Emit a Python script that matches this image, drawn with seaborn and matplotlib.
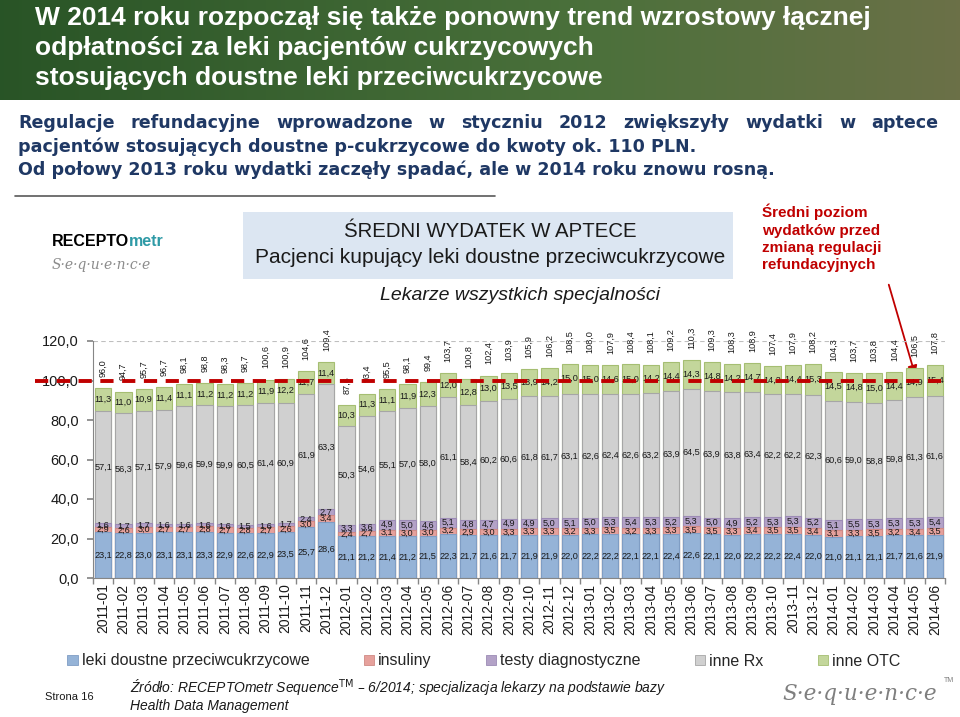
import numpy as np
import pandas as pd
import matplotlib
matplotlib.use("Agg")
import matplotlib.pyplot as plt
import seaborn as sns
from matplotlib.patches import Rectangle, Patch
from matplotlib.lines import Line2D

# ---------------- data ----------------
months = ([f"2011-{m:02d}" for m in range(1, 13)] + [f"2012-{m:02d}" for m in range(1, 13)]
          + [f"2013-{m:02d}" for m in range(1, 13)] + [f"2014-{m:02d}" for m in range(1, 7)])

leki = [23.1, 22.8, 23.0, 23.1, 23.1, 23.3, 22.9, 22.6, 22.9, 23.5, 25.7, 28.6,
        21.1, 21.2, 21.4, 21.2, 21.5, 22.3, 21.7, 21.6, 21.7, 21.9, 21.9, 22.0,
        22.2, 22.2, 22.1, 22.1, 22.4, 22.6, 22.1, 22.0, 22.2, 22.2, 22.4, 22.0,
        21.0, 21.1, 21.1, 21.7, 21.6, 21.9]
insuliny = [2.9, 2.6, 3.0, 2.7, 2.7, 2.8, 2.7, 2.8, 2.7, 2.6, 3.0, 3.4,
            2.4, 2.7, 3.1, 3.0, 3.0, 3.2, 2.9, 3.0, 3.3, 3.3, 3.3, 3.2,
            3.3, 3.5, 3.2, 3.3, 3.3, 3.5, 3.5, 3.3, 3.4, 3.5, 3.5, 3.4,
            3.1, 3.3, 3.5, 3.2, 3.4, 3.5]
testy = [1.6, 1.7, 1.7, 1.6, 1.6, 1.6, 1.6, 1.5, 1.6, 1.7, 2.4, 2.7,
         3.3, 3.6, 4.9, 5.0, 4.6, 5.1, 4.8, 4.7, 4.9, 4.9, 5.0, 5.1,
         5.0, 5.3, 5.4, 5.3, 5.2, 5.3, 5.0, 4.9, 5.2, 5.3, 5.3, 5.2,
         5.1, 5.5, 5.3, 5.3, 5.3, 5.4]
inne_rx = [57.1, 56.3, 57.1, 57.9, 59.6, 59.9, 59.9, 60.5, 61.4, 60.9, 61.9, 63.3,
           50.3, 54.6, 55.1, 57.0, 58.0, 61.1, 58.4, 60.2, 60.6, 61.8, 61.7, 63.1,
           62.6, 62.4, 62.6, 63.2, 63.9, 64.5, 63.9, 63.8, 63.4, 62.2, 62.2, 62.3,
           60.6, 59.0, 58.8, 59.8, 61.3, 61.6]
inne_otc = [11.3, 11.0, 10.9, 11.4, 11.1, 11.2, 11.2, 11.2, 11.9, 12.2, 11.7, 11.4,
            10.3, 11.3, 11.1, 11.9, 12.3, 12.0, 12.8, 13.0, 13.5, 13.9, 14.2, 15.0,
            15.0, 14.6, 15.0, 14.2, 14.4, 14.3, 14.8, 14.2, 14.7, 14.2, 14.4, 15.3,
            14.5, 14.8, 15.0, 14.4, 14.9, 15.4]
totals = [96.0, 94.7, 95.7, 96.7, 98.1, 98.8, 98.3, 98.7, 100.6, 100.9, 104.6, 109.4,
          87.6, 93.4, 95.5, 98.1, 99.4, 103.7, 100.8, 102.4, 103.9, 105.9, 106.2, 108.5,
          108.0, 107.9, 108.4, 108.1, 109.2, 110.3, 109.3, 108.3, 108.9, 107.4, 107.9, 108.2,
          104.3, 103.7, 103.8, 104.4, 106.5, 107.8]
ref_level = 100.0

series_names = ["leki doustne przeciwcukrzycowe", "insuliny", "testy diagnostyczne", "inne Rx", "inne OTC"]
series_vals = [leki, insuliny, testy, inne_rx, inne_otc]
fill_colors = ["#95B3D7", "#E6A19C", "#B3A2C7", "#D0D0D0", "#C3D69B"]
edge_colors = ["#7F9DC4", "#D08A85", "#9C8BB5", "#A6A6A6", "#A5BE72"]

df = pd.DataFrame({"month": months})
for n, v in zip(series_names, series_vals):
    df[n] = v
cum = df[series_names].cumsum(axis=1)

# ---------------- figure ----------------
sns.set_theme(style="white")
plt.rcParams["font.family"] = ["Liberation Sans", "DejaVu Sans"]

W, H = 960, 717
fig = plt.figure(figsize=(W / 100, H / 100), dpi=100)
fig.patch.set_facecolor("white")
renderer = fig.canvas.get_renderer()

def fx(px):
    return px / W

def fy(py):
    return 1 - py / H

# header band
hax = fig.add_axes([0, fy(100), 1, 100 / H])
grad = np.linspace(0, 1, 256)
c0 = np.array([0.16, 0.33, 0.15])
c1 = np.array([0.29, 0.44, 0.23])
c2 = np.array([0.42, 0.44, 0.28])
cols = np.where(grad[:, None] < 0.6,
                c0 + (c1 - c0) * (grad[:, None] / 0.6),
                c1 + (c2 - c1) * ((grad[:, None] - 0.6) / 0.4))
img = np.tile(cols[None, :, :], (20, 1, 1))
hax.imshow(img, aspect="auto", extent=[0, 1, 0, 1])
hax.axis("off")

title_lines = ["W 2014 roku rozpoczął się także ponowny trend wzrostowy łącznej",
               "odpłatności za leki pacjentów cukrzycowych",
               "stosujących doustne leki przeciwcukrzycowe"]
for i, t in enumerate(title_lines):
    fig.text(fx(35), fy(18 + 30 * i), t, color="white", fontsize=19, fontweight="bold",
             va="center", ha="left")

sub_lines = ["Regulacje refundacyjne wprowadzone w styczniu 2012 zwiększyły wydatki w aptece",
             "pacjentów stosujących doustne p-cukrzycowe do kwoty ok. 110 PLN.",
             "Od połowy 2013 roku wydatki zaczęły spadać, ale w 2014 roku znowu rosną."]
sub_kw = dict(color="#1F3864", fontsize=12.6, fontweight="bold", va="center", ha="left",
              family=["DejaVu Sans"])
# first line is justified to the full width (as in the reference)
words = sub_lines[0].split()
wtexts = [fig.text(0, fy(123), w, **sub_kw) for w in words]
widths = [t.get_window_extent(renderer).width for t in wtexts]
gap = (938 - 18 - sum(widths)) / (len(words) - 1)
xpos = 18.0
for t, wd in zip(wtexts, widths):
    t.set_x(fx(xpos))
    xpos += wd + gap
for i, t in enumerate(sub_lines[1:], start=1):
    fig.text(fx(18), fy(123 + 23.5 * i), t, **sub_kw)

fig.add_artist(Line2D([fx(15), fx(495)], [fy(196), fy(196)], color="#595959", lw=1.2))

# logo
fax = fig.add_axes([0, 0, 1, 1], zorder=-1)
fax.axis("off")
t1 = fig.text(fx(52), fy(241), "RECEPTO", fontsize=11.5, fontweight="bold", color="black",
              va="center", ha="left")
fax.annotate("metr", xy=(1, 0), xycoords=t1, va="bottom", ha="left", fontsize=11.5,
             fontweight="bold", color="#2E9AA6")
fig.text(fx(52), fy(265), "S·e·q·u·e·n·c·e", fontsize=10, style="italic", color="#8C8C8C",
         va="center", ha="left", family=["DejaVu Serif"])

# title box
fig.add_artist(Rectangle((fx(243), fy(279)), fx(733) - fx(243), 67 / H,
                         transform=fig.transFigure, facecolor="#DCE6F2", edgecolor="none"))
fig.text(fx(490), fy(232), "ŚREDNI WYDATEK W APTECE", fontsize=14.7, ha="center", va="center",
         color="#1A1A1A")
fig.text(fx(490), fy(258), "Pacjenci kupujący leki doustne przeciwcukrzycowe", fontsize=15,
         ha="center", va="center", color="#1A1A1A")
fig.text(fx(520), fy(296), "Lekarze wszystkich specjalności", fontsize=14, style="italic",
         ha="center", va="center", color="#1A1A1A")

fig.text(fx(762), fy(204), "Średni poziom\nwydatków przed\nzmianą regulacji\nrefundacyjnych",
         color="#C00000", fontsize=11, fontweight="bold", va="top", ha="left", linespacing=1.28)
fax.annotate("", xy=(fx(916), fy(378)), xytext=(fx(888), fy(282)),
             xycoords="figure fraction", textcoords="figure fraction",
             arrowprops=dict(arrowstyle="-|>", color="#C00000", lw=1.3, mutation_scale=14),
             zorder=20)

# ---------------- main chart ----------------
ax = fig.add_axes([fx(93), fy(578), (945 - 93) / W, (578 - 341) / H])
for i in range(len(series_names) - 1, -1, -1):
    sns.barplot(x=df["month"], y=cum[series_names[i]], order=months, color=fill_colors[i],
                saturation=1, width=0.8, edgecolor=edge_colors[i], linewidth=0.8,
                errorbar=None, ax=ax, zorder=2)

def fmt(v):
    return f"{v:.1f}".replace(".", ",")

bottoms = cum.shift(1, axis=1).fillna(0)
for j in range(len(months)):
    for n in series_names:
        val = df.loc[j, n]
        yc = bottoms.loc[j, n] + val / 2
        ax.text(j, yc, fmt(val), ha="center", va="center", fontsize=6.6, color="#1A1A1A", zorder=4)
    ax.annotate(fmt(totals[j]), (j, cum.loc[j, series_names[-1]]), xytext=(0, 8),
                textcoords="offset points", rotation=90, ha="center", va="bottom",
                fontsize=6.6, color="#1A1A1A", zorder=4)

ax.plot([-0.068, 1.0], [ref_level, ref_level], transform=ax.get_yaxis_transform(),
        color="#C00000", lw=2.8, dashes=(3.4, 2.2), clip_on=False, zorder=10)
ax.axhline(120, color="#BFBFBF", lw=0.8, ls=(0, (4, 3)), zorder=1)

ax.set_xlim(-0.5, len(months) - 0.5)
ax.set_ylim(0, 120)
ax.set_yticks(np.arange(0, 121, 20))
ax.set_yticklabels([fmt(v) for v in np.arange(0, 121, 20)], fontsize=10.5, color="#1A1A1A")
ax.set_xticks(range(len(months)))
ax.set_xticklabels(months, rotation=90, fontsize=10, color="#1A1A1A")
ax.set_xticks(np.arange(-0.5, len(months), 1), minor=True)
ax.tick_params(axis="x", which="major", length=0, pad=4)
ax.tick_params(axis="x", which="minor", length=4, color="#868686", direction="out", bottom=True)
ax.tick_params(axis="y", length=4, color="#868686", direction="out", left=True, pad=6)
ax.set_xlabel("")
ax.set_ylabel("")
for s in ["top", "right"]:
    ax.spines[s].set_visible(False)
for s in ["left", "bottom"]:
    ax.spines[s].set_color("#868686")
    ax.spines[s].set_linewidth(0.8)
ax.patch.set_alpha(0)

# legend
handles = [Patch(facecolor=c, edgecolor=e, lw=0.6) for c, e in zip(fill_colors, edge_colors)]
fig.legend(handles, series_names, loc="center", bbox_to_anchor=(fx(484), fy(661)), ncol=5,
           frameon=False, fontsize=11.5, handlelength=0.65, handleheight=0.65,
           handletextpad=0.25, columnspacing=3.4)

# footer
fig.text(fx(45), fy(697), "Strona 16", fontsize=8, va="center", ha="left", color="#1A1A1A")
fig.text(fx(130), fy(688), "Źródło: RECEPTOmetr Sequence$^{\\mathrm{TM}}$ – 6/2014; specjalizacja lekarzy na podstawie bazy",
         fontsize=10, style="italic", va="center", ha="left", color="#1A1A1A")
fig.text(fx(130), fy(706), "Health Data Management", fontsize=10, style="italic",
         va="center", ha="left", color="#1A1A1A")
fig.text(fx(782), fy(694), "S·e·q·u·e·n·c·e", fontsize=15.5, style="italic", color="#7F7F7F",
         va="center", ha="left", family=["DejaVu Serif"])
fig.text(fx(944), fy(681), "TM", fontsize=5, color="#7F7F7F", va="center", ha="left")

fig.savefig("out.png", dpi=100)
